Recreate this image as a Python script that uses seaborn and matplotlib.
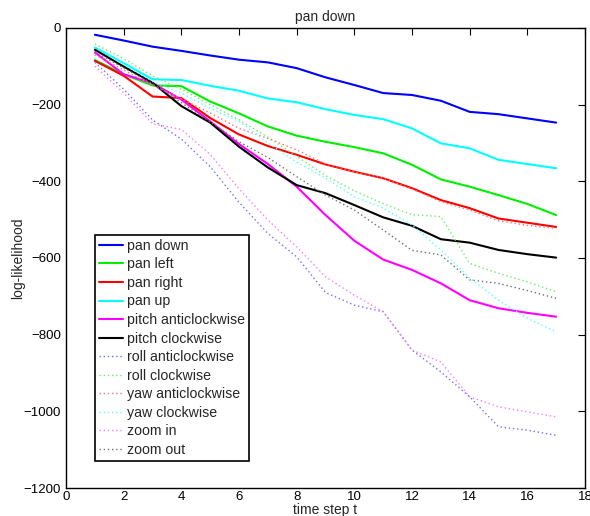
import pandas as pd
import matplotlib
matplotlib.use("Agg")
import matplotlib.pyplot as plt
import seaborn as sns

# log-likelihood per time step
time_steps = list(range(1, 18))

pan_down = [-18, -33, -49, -60, -72, -83, -90, -105, -129, -149, -170, -175, -190, -219, -225, -236, -247]
pan_left = [-84, -121, -150, -152, -192, -223, -257, -281, -297, -311, -327, -357, -395, -414, -436, -459, -488]
pan_right = [-86, -125, -179, -183, -235, -278, -308, -331, -356, -375, -392, -418, -449, -470, -497, -508, -519]
pan_up = [-51, -92, -134, -136, -151, -164, -184, -194, -212, -227, -238, -262, -301, -314, -344, -355, -366]
pitch_anticlockwise = [-64, -121, -144, -187, -244, -303, -355, -414, -488, -555, -604, -631, -666, -710, -731, -743, -753]
pitch_clockwise = [-57, -101, -143, -204, -247, -310, -364, -410, -431, -462, -494, -516, -551, -560, -579, -590, -599]
roll_anticlockwise = [-90, -160, -240, -290, -362, -455, -536, -597, -690, -723, -740, -840, -897, -962, -1040, -1049, -1062]
roll_clockwise = [-42, -80, -125, -160, -200, -240, -285, -335, -385, -425, -458, -487, -492, -614, -640, -662, -688]
yaw_anticlockwise = [-70, -110, -150, -185, -222, -262, -288, -318, -355, -375, -392, -420, -453, -475, -503, -515, -523]
yaw_clockwise = [-50, -95, -140, -170, -210, -244, -300, -350, -392, -440, -470, -514, -579, -652, -710, -757, -793]
zoom_in = [-100, -170, -250, -265, -330, -420, -501, -571, -649, -697, -740, -840, -871, -962, -988, -1001, -1014]
zoom_out = [-62, -105, -145, -195, -245, -297, -338, -388, -436, -475, -527, -580, -592, -657, -666, -685, -705]

series_names = ["pan down", "pan left", "pan right", "pan up", "pitch anticlockwise",
                "pitch clockwise", "roll anticlockwise", "roll clockwise", "yaw anticlockwise",
                "yaw clockwise", "zoom in", "zoom out"]
series_values = [pan_down, pan_left, pan_right, pan_up, pitch_anticlockwise, pitch_clockwise,
                 roll_anticlockwise, roll_clockwise, yaw_anticlockwise, yaw_clockwise, zoom_in, zoom_out]
line_colors = ["#0000ff", "#00ee00", "#ff0000", "#00ffff", "#ff00ff", "#000000",
               "#6f6fff", "#66ee66", "#ff7070", "#55ffff", "#ff77ff", "#707070"]

sns.set_style("white")
plt.rcParams["font.family"] = ["Liberation Sans", "DejaVu Sans"]

fig = plt.figure(figsize=(5.9, 5.16), dpi=100)
ax = fig.add_axes([0.112, 0.054, 0.8795, 0.892])

for i, (name, vals) in enumerate(zip(series_names, series_values)):
    df = pd.DataFrame({"t": time_steps, "ll": vals})
    dotted = i >= 6
    sns.lineplot(data=df, x="t", y="ll", ax=ax, color=line_colors[i], label=name,
                 linewidth=1.0 if dotted else 1.5,
                 linestyle=(0, (1, 2)) if dotted else "-")

ax.set_xlim(0, 18)
ax.set_ylim(-1200, 0)
ax.set_xticks(range(0, 19, 2))
ax.set_yticks(range(-1200, 1, 200))
ax.tick_params(direction="in", top=True, right=True, length=5, width=0.8,
               labelsize=9.5, colors="black")
ax.tick_params(axis="x", pad=2)
for sp in ax.spines.values():
    sp.set_color("black")
    sp.set_linewidth(1.0)

ax.set_title("pan down", fontsize=10, pad=5)
ax.set_xlabel("time step t", fontsize=10, labelpad=0)
ax.set_ylabel("log-likelihood", fontsize=10)
ax.yaxis.set_label_coords(-0.078, 0.5)

leg = ax.legend(loc="lower left", bbox_to_anchor=(0.056, 0.059), borderaxespad=0,
                fontsize=10.2, frameon=True, fancybox=False, handlelength=1.7,
                handletextpad=0.25, labelspacing=0.32, borderpad=0.3)
leg.get_frame().set_edgecolor("black")
leg.get_frame().set_linewidth(1.2)
leg.get_frame().set_alpha(1)

fig.savefig("out.png", dpi=100)
